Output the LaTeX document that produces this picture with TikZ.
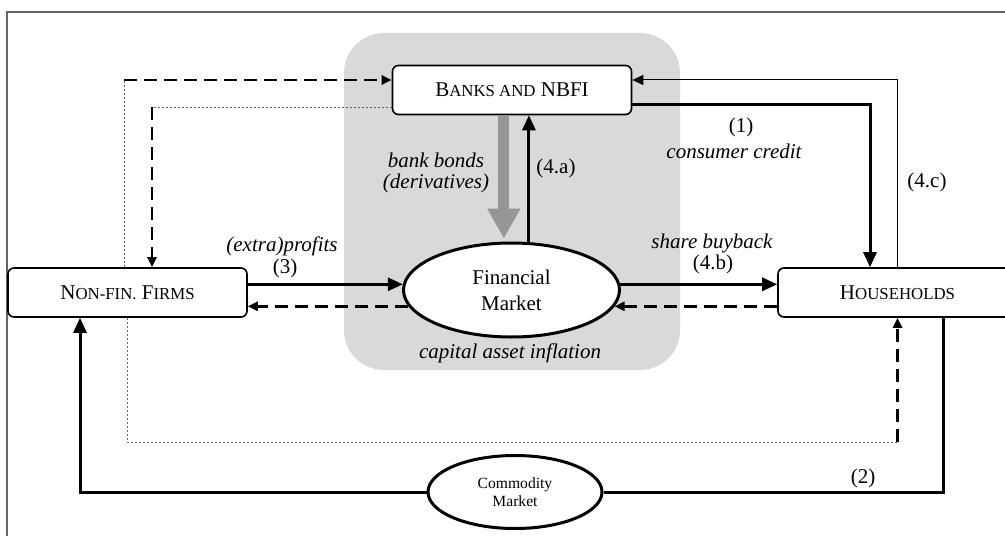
\documentclass[tikz,border=0pt]{standalone}
\usepackage{fontspec}
\setmainfont{Liberation Serif}
\usetikzlibrary{arrows.meta,shapes.geometric,calc}
\definecolor{bggray}{RGB}{217,217,217}
\definecolor{arrgray}{RGB}{150,150,150}
\definecolor{framegray}{RGB}{100,100,100}
\newcommand\smcap[1]{{\fontsize{8.4}{10}\selectfont #1}}
\begin{document}
\begin{tikzpicture}[x=0.5pt,y=-0.5pt,
  every node/.style={font=\fontsize{10.5}{13}\selectfont},
  agent/.style={draw, line width=0.8pt, rounded corners=3pt, fill=white,
    minimum width=119.5pt, minimum height=24.5pt, inner sep=0pt},
  market/.style={draw, ellipse, line width=1.5pt, fill=white, inner sep=0pt, align=center},
  flow/.style={line width=1.5pt, -{Triangle[length=7.5pt,width=6.5pt]}},
  backflow/.style={line width=1.3pt, dash pattern=on 6.5pt off 3.5pt,
    -{Triangle[length=5pt,width=4.5pt]}},
  plain/.style={line width=1.5pt},
  link/.style={line width=0.4pt, framegray, dash pattern=on 1pt off 1pt},
  thinflow/.style={line width=0.5pt, -{Triangle[length=5.5pt,width=5pt]}},
  fatflow/.style={line width=5.5pt, arrgray, -{Triangle[length=15pt,width=15.5pt]}},
  lbl/.style={inner sep=0pt},
  ilbl/.style={inner sep=0pt, font=\fontsize{10.5}{13}\selectfont\itshape},
]
\clip (0,0) rectangle (1005,535);
\fill[bggray, rounded corners=20pt] (344,33) rectangle (680,370);
\draw[framegray, line width=0.6pt] (7,12) rectangle (1030,560);

% nodes
\node[agent] (banks) at (512,90) {B\smcap{ANKS AND} NBFI};
\node[agent] (nf) at (127.5,292.5) {N\smcap{ON-FIN.} F\smcap{IRMS}};
\node[agent] (hh) at (897.5,292.5) {H\smcap{OUSEHOLDS}};
\node[market, minimum width=108pt, minimum height=47pt] (fm) at (511.5,290) {Financial\\Market};
\node[market, minimum width=87pt, minimum height=36.5pt,
  font=\fontsize{7.8}{9}\selectfont] (cm) at (515,492) {Commodity\\Market};

% coordinates for routing
\coordinate (tl) at (124,80);
\coordinate (tl2) at (152,107);
\coordinate (br) at (hh.south |- 0,442);

% banks <-> households
\draw[flow] (banks.east |- 0,105) -| (870,0 |- hh.north);
\draw[thinflow] (hh.north) |- (banks.east |- 0,80);

% banks <-> financial market
\draw[fatflow, shorten >=1.5pt] (fm.99 |- banks.south) -- (fm.99);
\draw[flow] (fm.70) -- (fm.70 |- banks.south);

% firms <-> financial market
\draw[flow] (nf.east |- fm.177) -- (fm.177);
\draw[backflow] (fm.189) -- (nf.east |- fm.189);

% financial market <-> households
\draw[flow] (fm.3) -- (hh.west |- fm.3);
\draw[backflow] (hh.west |- fm.351) -- (fm.351);

% firms <-> banks
\draw[link] (tl |- nf.north) -- (tl);
\draw[backflow] (tl) -- (banks.west |- tl);
\draw[link] (banks.west |- tl2) -- (tl2);
\draw[backflow] (tl2) -- (tl2 |- nf.north);

% firms -> households (dotted / dashed)
\draw[link] (nf.south) |- (br);
\draw[backflow] (br) -- (hh.south);

% commodity market loop
\draw[plain] (943,0 |- hh.south) |- (cm.east);
\draw[flow] (cm.west) -| (80,0 |- nf.south);

% labels
\node[lbl] at (741,127) {(1)};
\node[ilbl] at (734,151) {consumer credit};
\node[lbl] at (927,182) {(4.c)};
\node[lbl] at (556,168) {(4.a)};
\node[ilbl] at (436,160) {bank bonds};
\node[ilbl] at (436,183) {(derivatives)};
\node[ilbl] at (282,246) {(extra)profits};
\node[lbl] at (285,268) {(3)};
\node[ilbl] at (712,243) {share buyback};
\node[lbl] at (713,264) {(4.b)};
\node[lbl] at (863,478) {(2)};
\node[ilbl] at (510,353) {capital asset inflation};
\end{tikzpicture}
\end{document}
